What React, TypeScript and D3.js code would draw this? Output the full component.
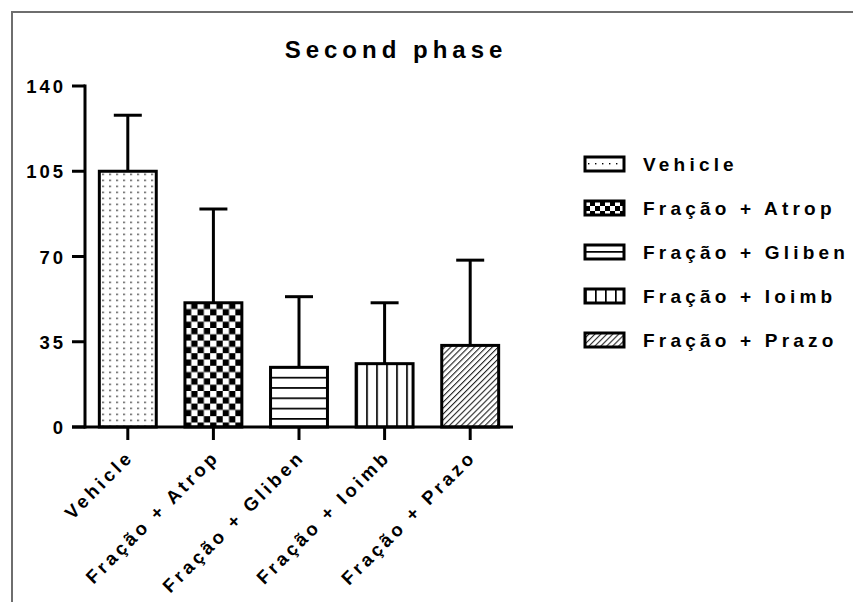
import React from 'react';
import * as d3 from 'd3';

const categories = ['Vehicle', 'Fração + Atrop', 'Fração + Gliben', 'Fração + Ioimb', 'Fração + Prazo'];
const means = [105, 51, 24.5, 26, 33.5];
const sdUpper = [23, 38.5, 29, 25, 35];
const fills = ['dots', 'checker', 'hlines', 'vlines', 'diag'];
const yTicks = [0, 35, 70, 105, 140];
const title = 'Second phase';

const W = 853;
const H = 602;
const FONT = '"Liberation Sans", Arial, sans-serif';

function Pattern({ type, id, ox, oy, legend }: { type: string; id: string; ox: number; oy: number; legend?: boolean }) {
  if (type === 'dots') {
    return (
      <pattern id={id} patternUnits="userSpaceOnUse" x={ox} y={oy} width={7} height={legend ? 14 : 6}>
        <rect x={3} y={legend ? 6 : 2.5} width={1.4} height={1.4} fill="#000" />
      </pattern>
    );
  }
  if (type === 'checker') {
    const s = legend ? 5 : 6.3;
    return (
      <pattern id={id} patternUnits="userSpaceOnUse" x={ox} y={oy} width={2 * s} height={2 * s}>
        <rect x={s} y={0} width={s} height={s} fill="#000" />
        <rect x={0} y={s} width={s} height={s} fill="#000" />
      </pattern>
    );
  }
  if (type === 'hlines') {
    return (
      <pattern id={id} patternUnits="userSpaceOnUse" x={ox} y={oy} width={10} height={10.3}>
        <rect x={0} y={0} width={10} height={1.7} fill="#000" />
      </pattern>
    );
  }
  if (type === 'vlines') {
    return (
      <pattern id={id} patternUnits="userSpaceOnUse" x={ox} y={oy} width={10} height={10}>
        <rect x={0} y={0} width={1.7} height={10} fill="#000" />
      </pattern>
    );
  }
  return (
    <pattern id={id} patternUnits="userSpaceOnUse" x={ox} y={oy} width={4.2} height={4.2} patternTransform="rotate(45)">
      <rect x={0} y={0} width={1.1} height={4.2} fill="#222" />
    </pattern>
  );
}

export default function App() {
  const x = d3.scaleBand<string>().domain(categories).range([85, 513]).paddingInner(0.335).paddingOuter(0.1675);
  const y = d3.scaleLinear().domain([0, 140]).range([427, 86]);
  const bw = x.bandwidth();
  const y0 = y(0);

  const legendY = (i: number) => 164 + i * 44;
  const lx = 585;
  const lw = 39;
  const lh = 14;

  return (
    <svg width={W} height={H} style={{ position: 'absolute', left: 0, top: 0, background: '#fff' }}>
      <defs>
        {categories.map((c, i) => {
          const bx = x(c)!;
          const t = fills[i];
          const ox = t === 'vlines' ? bx + 10 : bx;
          const oy = t === 'hlines' ? y0 + 1.3 : y(means[i]);
          return <Pattern key={'p' + i} type={t} id={'bar' + i} ox={ox} oy={oy} />;
        })}
        {categories.map((c, i) => {
          const t = fills[i];
          const top = legendY(i) - lh / 2;
          const ox = t === 'vlines' ? lx + 10 : lx;
          const oy = t === 'hlines' ? top + 6 : top;
          return <Pattern key={'l' + i} type={t} id={'leg' + i} ox={ox} oy={oy} legend />;
        })}
      </defs>
      <rect x={0} y={0} width={W} height={H} fill="#fff" />
      <rect x={12} y={12} width={W + 50} height={H + 50} fill="none" stroke="#6e6e6e" strokeWidth={2} />

      <text x={396} y={58} textAnchor="middle" fontFamily={FONT} fontWeight="bold" fontSize={24} letterSpacing={5} fill="#000">
        {title}
      </text>

      {/* bars */}
      {categories.map((c, i) => {
        const bx = x(c)!;
        const top = y(means[i]);
        return (
          <g key={'b' + i}>
            <rect x={bx} y={top} width={bw} height={y0 - top} fill="#fff" />
            <rect x={bx} y={top} width={bw} height={y0 - top} fill={`url(#bar${i})`} stroke="#000" strokeWidth={3} />
          </g>
        );
      })}

      {/* error bars */}
      {categories.map((c, i) => {
        const cx = x(c)! + bw / 2;
        const top = y(means[i] + sdUpper[i]);
        return (
          <g key={'e' + i} stroke="#000" strokeWidth={3}>
            <line x1={cx} x2={cx} y1={y(means[i])} y2={top} />
            <line x1={cx - 14} x2={cx + 14} y1={top} y2={top} />
          </g>
        );
      })}

      {/* y axis */}
      <line x1={85} x2={85} y1={y(140) - 1.5} y2={y0 + 1.5} stroke="#000" strokeWidth={3} />
      {yTicks.map((t) => (
        <g key={'yt' + t}>
          <line x1={72} x2={85} y1={y(t)} y2={y(t)} stroke="#000" strokeWidth={3} />
          <text x={66} y={y(t) + 7} textAnchor="end" fontFamily={FONT} fontWeight="bold" fontSize={18.5} letterSpacing={3} fill="#000">
            {t}
          </text>
        </g>
      ))}

      {/* x axis */}
      <line x1={72} x2={513} y1={y0} y2={y0} stroke="#000" strokeWidth={3} />
      {categories.map((c) => {
        const cx = x(c)! + bw / 2;
        return (
          <g key={'xt' + c}>
            <line x1={cx} x2={cx} y1={y0} y2={y0 + 13} stroke="#000" strokeWidth={3} />
            <text
              transform={`translate(${cx + 7},${458}) rotate(-45)`}
              textAnchor="end"
              fontFamily={FONT}
              fontWeight="bold"
              fontSize={18.5}
              letterSpacing={3.5}
              fill="#000"
            >
              {c}
            </text>
          </g>
        );
      })}

      {/* legend */}
      {categories.map((c, i) => {
        const cy = legendY(i);
        return (
          <g key={'lg' + i}>
            <rect x={lx} y={cy - lh / 2} width={lw} height={lh} fill="#fff" />
            <rect x={lx} y={cy - lh / 2} width={lw} height={lh} fill={`url(#leg${i})`} stroke="#000" strokeWidth={3} />
            <text x={643} y={cy + 7} fontFamily={FONT} fontWeight="bold" fontSize={19} letterSpacing={4.2} fill="#000">
              {c}
            </text>
          </g>
        );
      })}
    </svg>
  );
}
